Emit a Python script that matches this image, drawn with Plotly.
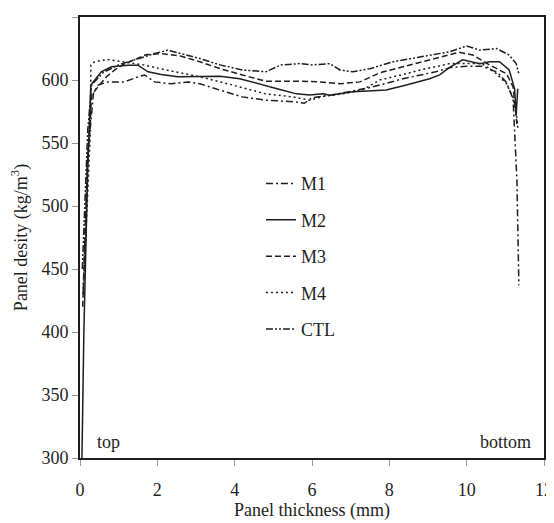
import plotly.graph_objects as go

# ---- data ----
m1_x = [0.08, 0.2, 0.35, 0.47, 0.72, 1.15, 1.5, 1.67, 1.93, 2.35, 2.8, 3.1, 3.62, 4.2, 4.8, 5.6, 5.8, 6.0,
        6.5, 7.0, 7.5, 8.0, 8.35, 9.2, 9.6, 10.0, 10.4, 10.8, 11.03, 11.2, 11.3, 11.35]
m1_y = [430, 540, 590, 596, 598.5, 598.5, 602.5, 604, 598.5, 597, 598.5, 597, 592, 586.6, 584, 582.6, 581.5, 586,
        588, 591, 594, 598, 601, 606.5, 610, 611, 611, 606, 598, 585, 520, 437]

m2_x = [0.05, 0.1, 0.2, 0.28, 0.55, 0.81, 1.24, 1.5, 1.76, 2.1, 2.53, 2.96, 3.3, 3.62, 4.13, 4.65, 5.17, 5.6,
        5.94, 6.29, 6.46, 7.05, 7.92, 8.44, 9.04, 9.3, 9.56, 9.9, 10.34, 10.6, 10.85, 11.1, 11.24, 11.28, 11.32]
m2_y = [300, 400, 530, 596, 606.5, 610.5, 611.8, 611.8, 606.5, 604.4, 602.5, 602.5, 602.5, 603, 601, 597, 592.5, 589,
        588, 589, 588, 590.6, 592, 596, 601, 604, 610, 616, 613, 614.5, 614.5, 608, 593, 572, 593]

m3_x = [0.07, 0.2, 0.3, 0.5, 0.7, 0.9, 1.1, 1.4, 1.7, 2.1, 2.6, 3.1, 3.62, 4.2, 4.8, 5.68, 6.2, 6.72, 7.24, 7.75,
        8.35, 9.04, 9.56, 9.8, 10.16, 10.6, 11.03, 11.2, 11.3]
m3_y = [420, 540, 588, 596, 603, 608, 612, 616, 620, 621, 619, 614.5, 609, 604, 599, 599, 598.5, 597, 598.5, 605.7,
        610.5, 615.8, 619.8, 622, 619.8, 611.8, 605, 594.5, 565]

m4_x = [0.1, 0.27, 0.28, 0.38, 0.72, 1.07, 1.64, 2.07, 2.75, 3.1, 3.95, 4.8, 5.5, 5.94, 6.3, 6.8, 7.3, 7.75, 8.3,
        8.8, 9.56, 10.0, 10.4, 10.77, 11.03, 11.2, 11.3, 11.33]
m4_y = [440, 560, 612, 614.5, 616.3, 614.5, 612, 609, 605, 602.5, 596, 589, 586.6, 584, 587, 589, 592, 600, 604,
        608, 613, 613, 613, 605, 597, 586, 570, 560]

ctl_x = [0.06, 0.2, 0.3, 0.6, 1.0, 1.5, 1.93, 2.27, 2.7, 3.1, 3.62, 4.2, 4.8, 5.2, 5.68, 6.0, 6.46, 6.72, 7.05,
         7.5, 8.1, 8.8, 9.56, 10.0, 10.34, 10.77, 11.1, 11.28, 11.35]
ctl_y = [450, 560, 596, 606, 612, 617, 621, 623.7, 620.5, 617, 612, 608, 606.5, 612, 613, 612, 613, 608, 606.5,
         609, 614.5, 618.5, 622.4, 627, 623.7, 625, 619.8, 613, 605]

series_names = ["M1", "M2", "M3", "M4", "CTL"]
x_ticks = [0, 2, 4, 6, 8, 10, 12]
y_ticks = [300, 350, 400, 450, 500, 550, 600, 650]
x_title = "Panel thickness (mm)"
y_title = "Panel desity (kg/m<sup>3</sup>)"

# ---- styles ----
FONT = "Liberation Serif, Times New Roman, serif"
INK = "#1e1e1e"
FS = 18
dashes = {
    "M1": "7px,3px,2px,3px",
    "M2": "solid",
    "M3": "6px,3px",
    "M4": "2px,3px",
    "CTL": "7px,2px,2px,2px,2px,2px",
}
data = {
    "M1": (m1_x, m1_y),
    "M2": (m2_x, m2_y),
    "M3": (m3_x, m3_y),
    "M4": (m4_x, m4_y),
    "CTL": (ctl_x, ctl_y),
}

fig = go.Figure()
for name in series_names:
    xs, ys = data[name]
    fig.add_trace(go.Scatter(
        x=xs, y=ys, mode="lines", name=name, legendgroup=name,
        line=dict(color=INK, width=1.5, dash=dashes[name]),
    ))

# the page body has an 8px margin, so the figure is sized to fit the window
fig.update_layout(
    width=546, height=515,
    margin=dict(l=72, r=10, t=9, b=65),
    paper_bgcolor="white", plot_bgcolor="white",
    font=dict(family=FONT, size=FS, color=INK),
    showlegend=True,
    legend=dict(
        x=0.39, y=0.664, xanchor="left", yanchor="top",
        bgcolor="rgba(0,0,0,0)", borderwidth=0,
        font=dict(family=FONT, size=FS, color=INK),
        tracegroupgap=10, itemwidth=30,
    ),
    xaxis=dict(
        range=[0, 12], tickvals=x_ticks, ticktext=[str(v) for v in x_ticks],
        showline=True, linecolor=INK, linewidth=2, mirror=True, automargin=False,
        ticks="outside", ticklen=6, tickcolor="#999", showgrid=False, zeroline=False,
        ticklabelstandoff=8,
        tickfont=dict(family=FONT, size=FS, color=INK),
    ),
    yaxis=dict(
        range=[300, 650], tickvals=y_ticks, ticktext=[str(v) for v in y_ticks],
        showline=True, linecolor=INK, linewidth=2, mirror=True, automargin=False,
        ticks="outside", ticklen=6, tickcolor="#999", showgrid=False, zeroline=False,
        tickfont=dict(family=FONT, size=FS, color=INK),
        title=dict(text=y_title, font=dict(family=FONT, size=FS, color=INK), standoff=11),
    ),
    annotations=[
        dict(x=0.5, y=-0.118, xref="paper", yref="paper", text=x_title, showarrow=False,
             xanchor="center", yanchor="middle", font=dict(family=FONT, size=FS, color=INK)),
        dict(x=0.38, y=303, xref="x", yref="y", text="top", showarrow=False,
             xanchor="left", yanchor="bottom", font=dict(family=FONT, size=FS, color=INK)),
        dict(x=11.72, y=303, xref="x", yref="y", text="bottom", showarrow=False,
             xanchor="right", yanchor="bottom", font=dict(family=FONT, size=FS, color=INK)),
    ],
)

# hide scrollbars so the full figure is visible in the window
fig.write_html(
    "out.html",
    post_script="document.documentElement.style.overflow='hidden';document.body.style.overflow='hidden';",
)
